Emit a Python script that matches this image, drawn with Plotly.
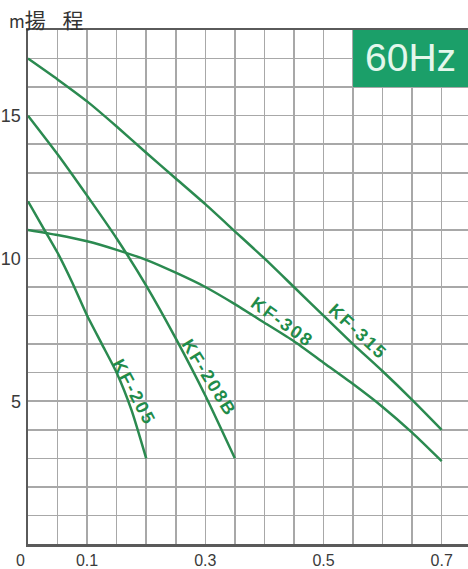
import plotly.graph_objects as go

# ---- data ----
q_315 = [0, 0.05, 0.1, 0.15, 0.2, 0.25, 0.3, 0.35, 0.4, 0.45, 0.5, 0.55, 0.6, 0.65, 0.7]
h_315 = [17.0, 16.27, 15.5, 14.62, 13.7, 12.8, 11.9, 10.95, 10.0, 9.0, 8.0, 7.0, 6.05, 5.05, 4.0]

q_308 = [0, 0.05, 0.1, 0.15, 0.2, 0.25, 0.3, 0.35, 0.4, 0.45, 0.5, 0.55, 0.6, 0.65, 0.7]
h_308 = [11.0, 10.82, 10.6, 10.3, 9.95, 9.5, 9.0, 8.4, 7.75, 7.1, 6.35, 5.6, 4.8, 3.9, 2.9]

q_208b = [0, 0.05, 0.1, 0.15, 0.2, 0.25, 0.3, 0.35]
h_208b = [15.0, 13.65, 12.2, 10.7, 9.05, 7.2, 5.2, 3.0]

q_205 = [0, 0.025, 0.05, 0.075, 0.1, 0.125, 0.15, 0.175, 0.2]
h_205 = [12.0, 11.1, 10.2, 9.15, 8.0, 7.0, 6.0, 4.7, 3.0]

series_names = ["KF-315", "KF-308", "KF-208B", "KF-205"]

# label positions (data coords) and angles
label_q = [0.559, 0.430, 0.307, 0.179]
label_h = [7.43, 7.76, 5.83, 5.32]
label_angle = [43, 36, 58, 62]

x_tick_vals = [0, 0.1, 0.3, 0.5, 0.7]
x_tick_text = ["", "0.1", "0.3", "0.5", "0.7"]
y_tick_vals = [5, 10, 15]
y_tick_text = ["5", "10", "15"]

y_title = "揚 程"
y_unit = "m"
freq_label = "60Hz"

LINE_COLOR = "#2b8a50"
TEXT_GREEN = "#1f8c4a"
GRID = "#a8a8a8"
AXIS = "#5a5a5a"
FONT = "Liberation Sans, Arial, sans-serif"

fig = go.Figure()
for q, h, name in [(q_315, h_315, series_names[0]), (q_308, h_308, series_names[1]),
                   (q_208b, h_208b, series_names[2]), (q_205, h_205, series_names[3])]:
    fig.add_trace(go.Scatter(x=q, y=h, mode="lines", name=name,
                             line=dict(color=LINE_COLOR, width=2.5, shape="spline", smoothing=0.6),
                             hoverinfo="skip", showlegend=False))

for name, lq, lh, ang in zip(series_names, label_q, label_h, label_angle):
    fig.add_annotation(x=lq, y=lh, xref="x", yref="y", showarrow=False,
                       text=f"<b><span style='letter-spacing:2px'>{name}</span></b>",
                       textangle=ang, font=dict(family=FONT, size=18, color=TEXT_GREEN))

# frequency box
fig.add_shape(type="rect", xref="x", yref="paper", x0=0.55, x1=0.76, y0=16 / 18, y1=1,
              fillcolor="#1b9f69", line=dict(width=0), layer="above")
fig.add_annotation(x=0.648, y=17.05, xref="x", yref="y", showarrow=False, text=freq_label,
                   font=dict(family=FONT, size=39, color="#e4f7ec"))

# axis title
fig.add_annotation(x=-28 / 440, y=1, xref="paper", yref="paper", xanchor="left", yanchor="bottom",
                   showarrow=False, yshift=-6, xshift=7,
                   text=f"<span style='font-size:17px'>{y_unit}</span>"
                        f"<span style='letter-spacing:6px'>{y_title}</span>",
                   font=dict(family="Noto Sans CJK JP, " + FONT, size=21, color="#333333"))

# origin label
fig.add_annotation(x=0, y=0, xref="x", yref="y", showarrow=False, text="0", xshift=-8, yshift=-16,
                   font=dict(family=FONT, size=16, color="#3a3a3a"))

fig.update_layout(
    width=468, height=569,
    margin=dict(l=28, r=0, t=30, b=25, autoexpand=False),
    paper_bgcolor="white", plot_bgcolor="white",
    font=dict(family=FONT, size=16, color="#3a3a3a"),
    xaxis=dict(range=[0, 0.7445], tickvals=x_tick_vals, ticktext=x_tick_text,
               showgrid=True, gridcolor=GRID, gridwidth=1.5,
               minor=dict(tickmode="linear", tick0=0, dtick=0.05, showgrid=True,
                          gridcolor=GRID, gridwidth=1.5),
               showline=True, linecolor=AXIS, linewidth=2.5, mirror=True,
               ticks="", zeroline=False, fixedrange=True, automargin=False,
               ticklabelstandoff=0, tickfont=dict(size=16)),
    yaxis=dict(range=[0, 18], tickvals=y_tick_vals, ticktext=y_tick_text,
               showgrid=True, gridcolor=GRID, gridwidth=1.5,
               minor=dict(tickmode="linear", tick0=0, dtick=1, showgrid=True,
                          gridcolor=GRID, gridwidth=1.5),
               showline=True, linecolor=AXIS, linewidth=2.5, mirror=False,
               ticks="", ticklabelstandoff=1, zeroline=False, fixedrange=True,
               automargin=False, tickfont=dict(size=18)),
)

fig.write_html("out.html", config={"displayModeBar": False, "staticPlot": True},
               post_script="document.body.style.margin='0';document.body.style.overflow='hidden';")
